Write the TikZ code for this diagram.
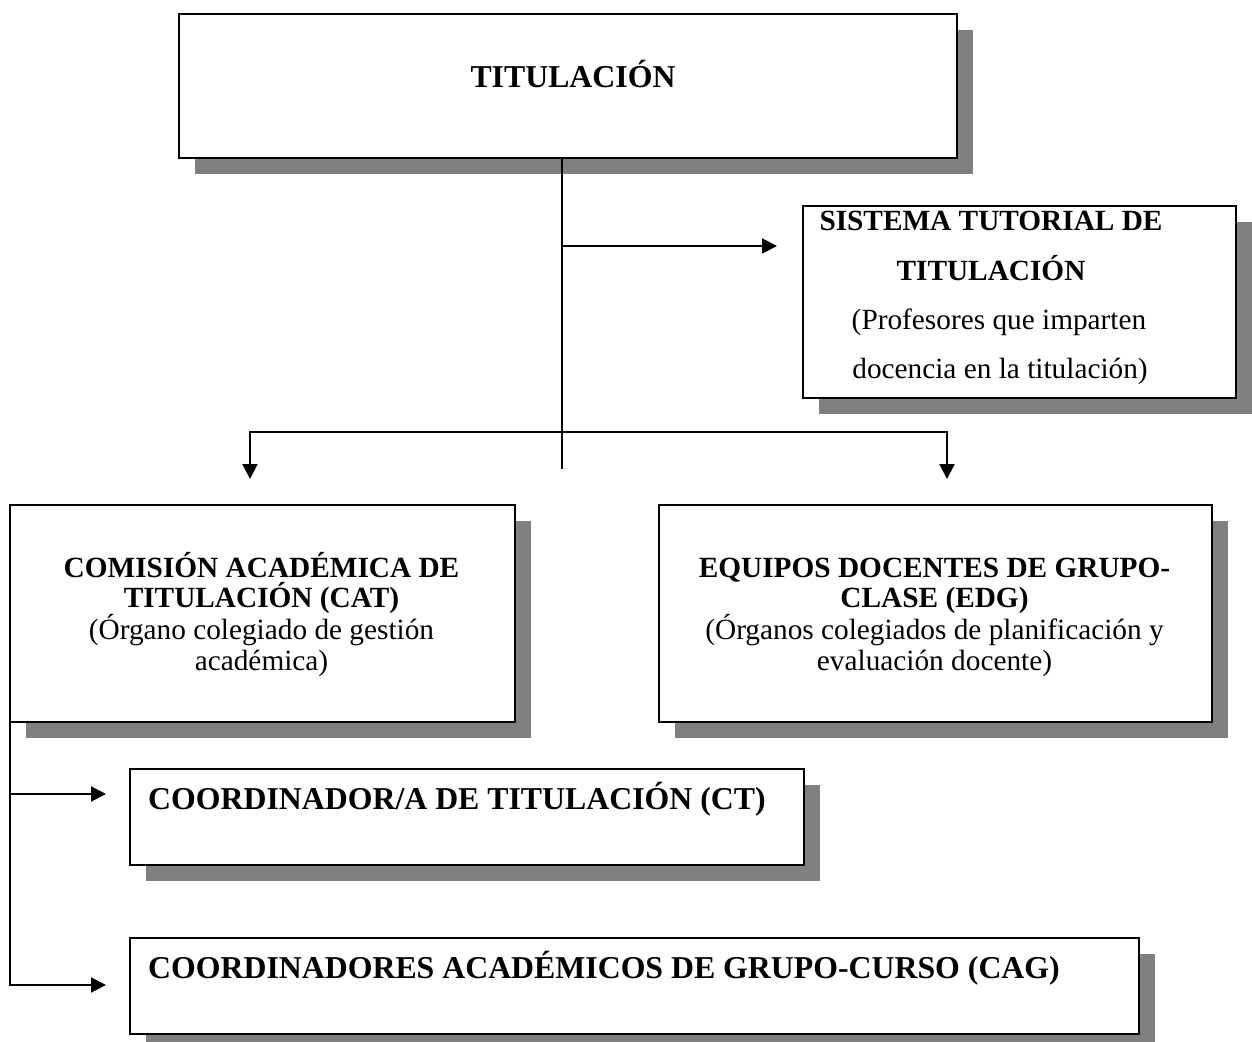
\documentclass[tikz,border=0pt]{standalone}
\usepackage{fontspec}
\setmainfont{Liberation Serif}
\usetikzlibrary{arrows.meta,shadows,calc}
\definecolor{shadowgray}{RGB}{128,128,128}
\begin{document}
\begin{tikzpicture}[x=1pt,y=-1pt,
  box/.style={draw=black, line width=2pt, fill=white, rectangle, anchor=north west, inner sep=0pt,
    general shadow={fill=shadowgray, shadow xshift=16pt, shadow yshift=-16pt}},
  conn/.style={line width=2pt},
  arr/.style={line width=2pt, -{Triangle[length=15pt,width=15pt]}},
  tb/.style={font=\fontsize{29.3}{31}\selectfont\bfseries, anchor=base, inner sep=0pt},
  tr/.style={font=\fontsize{29.3}{31}\selectfont, anchor=base, inner sep=0pt},
  tbig/.style={font=\fontsize{31.8}{34}\selectfont\bfseries, anchor=base, inner sep=0pt},
]
\useasboundingbox[fill=white] (0,0) rectangle (1252,1041);

% boxes
\node[box, minimum width=778pt, minimum height=144pt] (t) at (178,13) {};
\node[box, minimum width=433pt, minimum height=192pt] (s) at (802,205) {};
\node[box, minimum width=505pt, minimum height=217pt] (c) at (9,504) {};
\node[box, minimum width=553pt, minimum height=217pt] (e) at (658,504) {};
\node[box, minimum width=674pt, minimum height=96pt] (ct) at (129,768) {};
\node[box, minimum width=1009pt, minimum height=96pt] (cg) at (129,937) {};

% texts
\node[tbig] (tt) at (573,88) {TITULACIÓN};

\node[tb] (s1) at (991,230) {SISTEMA TUTORIAL DE};
\node[tb] (s2) at (991,280) {TITULACIÓN};
\node[tr] (s3) at (999,329) {(Profesores que imparten};
\node[tr] (s4) at (1000,378) {docencia en la titulación)};

\node[tb] (c1) at (261.5,577) {COMISIÓN ACADÉMICA DE};
\node[tb] (c2) at (261.5,607) {TITULACIÓN (CAT)};
\node[tr] (c3) at (261.5,639) {(Órgano colegiado de gestión};
\node[tr] (c4) at (261.5,670) {académica)};

\node[tb] (e1) at (934.5,577) {EQUIPOS DOCENTES DE GRUPO-};
\node[tb] (e2) at (934.5,607) {CLASE (EDG)};
\node[tr] (e3) at (934.5,639) {(Órganos colegiados de planificación y};
\node[tr] (e4) at (934.5,670) {evaluación docente)};

\node[tbig, anchor=base west] (ct1) at (148,809) {COORDINADOR/A DE TITULACIÓN (CT)};
\node[tbig, anchor=base west] (cg1) at (148,978) {COORDINADORES ACADÉMICOS DE GRUPO-CURSO (CAG)};

% connector coordinates
\coordinate (j1) at (562,469);
\coordinate (hb) at (562,432);
\coordinate (a1) at (777,246);
\coordinate (aL) at (250,479);
\coordinate (aR) at (947,479);
\coordinate (ac) at (106,794);
\coordinate (ag) at (106,985);

% connectors
\draw[conn] (t.south -| j1) -- (j1);
\draw[arr] (j1 |- a1) -- (a1);
\draw[arr] (hb) -- (aL |- hb) -- (aL);
\draw[arr] (hb) -- (aR |- hb) -- (aR);
\draw[arr] ($(c.south west)+(1,0)$) -- ($(c.south west |- ag)+(1,0)$) -- (ag);
\draw[arr] ($(c.south west |- ac)+(1,0)$) -- (ac);
\end{tikzpicture}
\end{document}
